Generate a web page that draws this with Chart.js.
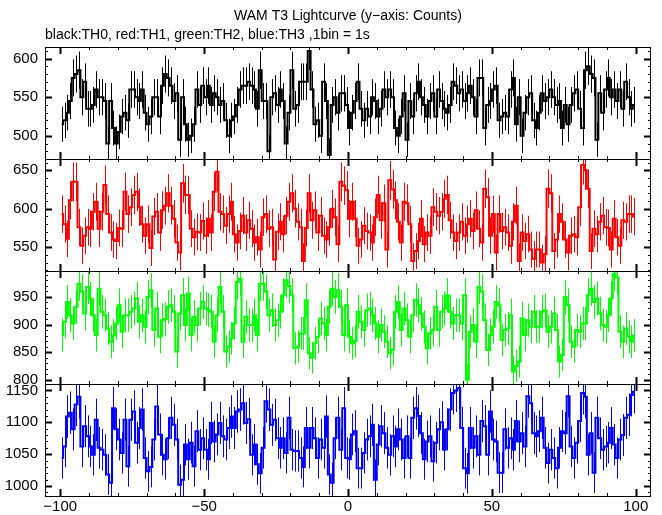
<!DOCTYPE html>
<html>
<head>
<meta charset="utf-8">
<title>WAM T3 Lightcurve</title>
<script src="https://cdn.jsdelivr.net/npm/chart.js@4/dist/chart.umd.min.js"></script>
<style>
  html, body { margin: 0; padding: 0; background: #fff; }
  canvas { display: block; }
</style>
</head>
<body>
<canvas id="lc" width="662" height="515"></canvas>
<script>
// counts per 1 s bin, 200 bins from -100 s to +100 s
const th0 = [515,520,530,545,575,580,585,550,570,535,535,540,560,550,550,545,490,545,510,490,505,525,530,520,560,560,550,545,560,530,515,525,550,550,525,565,580,575,565,545,555,495,550,515,495,500,515,560,540,565,550,565,540,555,550,540,545,520,500,520,525,540,560,565,565,570,
  565,560,535,585,545,545,480,550,555,540,560,545,490,530,585,535,540,570,570,570,610,560,515,520,500,570,545,475,540,550,530,555,555,540,510,530,545,570,535,520,535,525,550,545,525,535,560,550,560,550,510,500,525,555,495,545,525,555,570,550,540,525,545,555,525,560,545,535,530,540,570,565,
  555,560,545,555,565,550,525,575,575,510,540,545,560,565,520,525,530,525,560,575,515,550,500,530,550,555,520,510,530,555,545,550,560,550,540,545,510,540,515,540,555,560,535,510,585,590,580,575,495,555,530,560,575,550,560,545,560,535,570,550,535,540];
const th1 = [593,580,561,611,635,635,576,552,565,576,574,596,609,574,596,631,593,569,560,558,575,574,622,593,602,618,622,602,580,565,580,549,590,596,569,598,604,620,604,587,556,543,633,618,618,574,563,570,569,584,565,587,569,622,648,596,593,578,593,609,567,556,571,591,569,585,
  574,556,563,547,589,593,574,576,534,570,583,567,591,609,620,600,583,576,532,575,620,585,598,569,591,565,560,576,600,589,554,635,630,624,587,609,587,552,560,578,571,569,556,589,618,585,607,547,637,625,611,583,556,609,607,580,532,545,558,587,554,569,565,602,596,591,596,613,618,585,569,558,
  569,583,565,580,587,571,598,574,556,626,615,565,593,543,593,571,576,569,552,583,604,532,569,558,567,547,535,547,547,530,541,626,620,545,560,593,583,560,543,565,567,563,602,657,650,626,545,574,567,583,591,576,575,547,587,563,552,585,583,593,593,590];
const th2 = [881,905,941,917,902,932,974,960,920,968,947,917,881,965,923,917,893,869,880,902,935,887,917,917,923,929,947,905,917,896,950,962,890,929,878,908,910,932,935,923,851,920,953,899,956,881,914,899,929,941,929,926,923,869,917,968,923,851,860,875,902,977,983,869,914,899,
  899,917,881,974,974,960,917,926,899,908,923,953,980,970,953,857,860,884,884,944,848,840,866,878,911,902,881,932,965,950,962,932,881,935,878,866,870,923,905,890,926,929,917,902,878,899,887,869,848,855,923,941,890,929,908,878,917,944,935,920,896,857,884,890,932,890,923,929,953,923,902,917,
  917,902,953,800,887,899,869,968,960,908,854,881,896,941,935,872,890,893,917,815,825,833,911,881,908,896,923,896,896,923,926,887,896,920,890,833,845,950,935,869,860,890,887,902,902,953,965,941,947,920,899,896,917,947,992,985,887,869,893,878,869,880];
const th3 = [1044,1062,1109,1115,1089,1128,1140,1062,1094,1078,1062,1049,1104,1060,1057,1049,1018,1005,1122,1089,1073,1052,1104,1031,1104,1117,1068,1091,1120,1044,1023,1030,1073,1125,1081,1049,1042,1075,1107,1096,1073,1002,1010,1065,1042,1068,1031,1086,1057,1075,1057,1042,1099,1070,1081,1099,1078,1073,1091,1109,1091,1117,1120,1130,1099,1105,
  1049,1065,1034,1020,1060,1133,1120,1096,1104,1075,1060,1075,1052,1107,1057,1055,1055,1044,1030,1091,1060,1091,1075,1044,1073,1060,1109,1018,1005,1075,1107,1057,1122,1044,1042,1081,1086,1028,1028,1052,1073,1078,1096,1010,1065,1094,1083,1060,1049,1078,1062,1089,1073,1044,1078,1044,1107,1122,1110,1083,1042,1070,1078,1039,1068,1089,1100,1057,1089,1120,1146,1150,
  1154,1091,1028,1020,1091,1060,1078,1049,1102,1094,1049,1117,1073,1070,1021,1021,1089,1060,1075,1057,1102,1070,1083,1062,1141,1130,1083,1078,1086,1107,1060,1036,1057,1044,1028,1060,1086,1083,1141,1062,1044,1068,1102,1146,1140,1049,1083,1021,1107,1075,1057,1062,1068,1091,1065,1044,1073,1080,1107,1112,1143,1148];

const series = [th0, th1, th2, th3];
const colors = ['#000000', '#ff0000', '#00ff00', '#0000ff'];
const xTicks = [-100, -50, 0, 50, 100];
const yTicks = [[500, 550, 600], [550, 600, 650], [800, 850, 900, 950], [1000, 1050, 1100, 1150]];
const yRanges = [[470, 615.6], [518.7, 664.7], [793, 996.4], [984.3, 1160.7]];
const binStart = -100;
const binWidth = 1;

const font = { family: "'Liberation Sans', Arial, sans-serif", size: 15 };
const fmt = v => v < 0 ? '\u2212' + (-v) : String(v);

function panelRect(chart, id) {
  const s = chart.scales[id];
  return { left: chart.chartArea.left, right: chart.chartArea.right, top: Math.round(s.top), bottom: Math.round(s.bottom) };
}

// clip each curve to its own panel and draw sqrt(N) error bars
const errorBars = {
  id: 'errorBars',
  beforeDatasetDraw(chart, args) {
    const r = panelRect(chart, args.meta.yAxisID);
    const ctx = chart.ctx;
    ctx.save();
    ctx.beginPath();
    ctx.rect(r.left, r.top, r.right - r.left, r.bottom - r.top);
    ctx.clip();
  },
  afterDatasetDraw(chart, args) {
    const ctx = chart.ctx;
    const ys = chart.scales[args.meta.yAxisID];
    const xs = chart.scales.x;
    const ds = chart.data.datasets[args.index];
    ctx.strokeStyle = ds.borderColor;
    ctx.lineWidth = 1;
    ctx.beginPath();
    ds.data.forEach(pt => {
      const x = Math.round(xs.getPixelForValue(pt.x)) + 0.5;
      const err = Math.sqrt(pt.y);
      ctx.moveTo(x, ys.getPixelForValue(pt.y - err));
      ctx.lineTo(x, ys.getPixelForValue(pt.y + err));
    });
    ctx.stroke();
    ctx.restore();
  }
};

// panel frames with inward ticks on all four sides
const frame = {
  id: 'frame',
  afterDraw(chart) {
    const ctx = chart.ctx;
    const xs = chart.scales.x;
    ctx.save();
    ctx.strokeStyle = '#000';
    series.forEach((_, p) => {
      const id = 'y' + p;
      const ys = chart.scales[id];
      const r = panelRect(chart, id);
      ctx.lineWidth = 1;
      ctx.strokeRect(r.left + 0.5, r.top + 0.5, r.right - r.left - 1, r.bottom - r.top);
      for (let v = -100; v <= 100; v += 10) {
        const major = v % 50 === 0;
        const len = major ? 7 : 3;
        const x = Math.round(xs.getPixelForValue(v)) + 0.5;
        ctx.lineWidth = major ? 2 : 1;
        ctx.beginPath();
        ctx.moveTo(x, r.top); ctx.lineTo(x, r.top + len);
        ctx.moveTo(x, r.bottom); ctx.lineTo(x, r.bottom - len);
        ctx.stroke();
      }
      const [lo, hi] = yRanges[p];
      for (let v = Math.ceil(lo / 10) * 10; v <= hi; v += 10) {
        const major = v % 50 === 0;
        const len = major ? 7 : 3;
        const y = Math.round(ys.getPixelForValue(v)) + 0.5;
        ctx.lineWidth = major ? 2 : 1;
        ctx.beginPath();
        ctx.moveTo(r.left, y); ctx.lineTo(r.left + len, y);
        ctx.moveTo(r.right, y); ctx.lineTo(r.right - len, y);
        ctx.stroke();
      }
    });
    ctx.restore();
  }
};

const scales = {
  x: {
    type: 'linear', min: -105.3, max: 105.3,
    grid: { display: false, drawTicks: false }, border: { display: false },
    afterBuildTicks: s => { s.ticks = xTicks.map(v => ({ value: v })); },
    afterFit: s => { s.height = 19; },
    ticks: { padding: 2, font, color: '#000', autoSkip: false, maxRotation: 0, callback: fmt }
  }
};
// stacked axes are laid out bottom-up, so define the lowest panel first
for (let p = series.length - 1; p >= 0; p--) {
  scales['y' + p] = {
    type: 'linear', position: 'left', stack: 'panels', stackWeight: 1,
    min: yRanges[p][0], max: yRanges[p][1],
    grid: { display: false, drawTicks: false }, border: { display: false },
    afterBuildTicks: s => { s.ticks = yTicks[p].map(v => ({ value: v })); },
    afterFit: s => { s.width = 45; },
    ticks: { padding: 7, font, color: '#000', autoSkip: false, callback: v => String(v) }
  };
}

const datasets = series.map((vals, p) => ({
  data: vals.map((v, i) => ({ x: binStart + binWidth * (i + 0.5), y: v })),
  yAxisID: 'y' + p,
  borderColor: colors[p],
  borderWidth: 2,
  pointRadius: 0,
  stepped: 'middle',
  fill: false
}));

new Chart(document.getElementById('lc').getContext('2d'), {
  type: 'line',
  data: { datasets },
  options: {
    responsive: false,
    animation: false,
    devicePixelRatio: 1,
    layout: { padding: { left: 0, right: 11, top: 0, bottom: 0 } },
    scales,
    plugins: {
      legend: { display: false },
      tooltip: { enabled: false },
      title: {
        display: true, text: 'WAM T3 Lightcurve (y\u2212axis: Counts)', color: '#000', fullSize: false,
        font: { family: font.family, size: 14, weight: 'normal' }, padding: { top: 8, bottom: 2 }
      },
      subtitle: {
        display: true, text: 'black:TH0, red:TH1, green:TH2, blue:TH3 ,1bin = 1s', color: '#000', fullSize: false,
        align: 'start', font: { family: font.family, size: 14 }, padding: { top: 0, bottom: 3 }
      }
    }
  },
  plugins: [errorBars, frame]
});
</script>
</body>
</html>
